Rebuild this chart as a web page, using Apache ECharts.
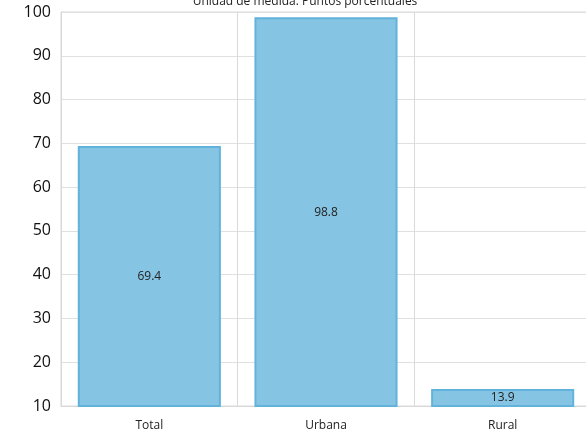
<!DOCTYPE html>
<html>
<head>
<meta charset="utf-8">
<script src="https://cdn.jsdelivr.net/npm/echarts@6/dist/echarts.min.js"></script>
<style>html,body{margin:0;padding:0;background:#fff}#c{width:586px;height:436px}</style>
</head>
<body>
<div id="c"></div>
<script>
var titleText = 'Unidad de medida: Puntos porcentuales';
var categories = ['Total', 'Urbana', 'Rural'];
var values = [69.4, 98.8, 13.9];
var yTicks = {min: 10, max: 100, interval: 10};

var chart = echarts.init(document.getElementById('c'), null, {renderer: 'canvas'});
chart.setOption({
  animation: false,
  title: {
    text: titleText, left: 300, textAlign: 'center', top: -9,
    textStyle: {fontFamily: 'Open Sans', fontSize: 12, fontWeight: 'normal', color: '#222'}
  },
  grid: {left: 61, width: 530, top: 12, bottom: 30, containLabel: false,
    outerBoundsMode: 'none',
    show: true, borderColor: '#d9d9d9', borderWidth: 1},
  xAxis: {
    type: 'category', data: categories,
    axisLine: {show: true, lineStyle: {color: '#d9d9d9'}},
    axisTick: {show: false},
    splitLine: {show: true, lineStyle: {color: '#d9d9d9'}},
    axisLabel: {fontFamily: 'Open Sans', fontSize: 12, color: '#222', margin: 14}
  },
  yAxis: {
    type: 'value', min: yTicks.min, max: yTicks.max, interval: yTicks.interval,
    axisLine: {show: true, lineStyle: {color: '#d9d9d9'}},
    axisTick: {show: false},
    splitLine: {show: true, lineStyle: {color: '#e0e0e0'}},
    axisLabel: {fontFamily: 'Open Sans', fontSize: 16, color: '#111', margin: 10}
  },
  series: [{
    type: 'bar', data: values, barWidth: '81%',
    itemStyle: {color: '#86c4e3', borderColor: '#62b3dc', borderWidth: 2},
    label: {show: true, position: 'inside', fontFamily: 'Open Sans', fontSize: 12, color: '#222'}
  }]
});
</script>
</body>
</html>
